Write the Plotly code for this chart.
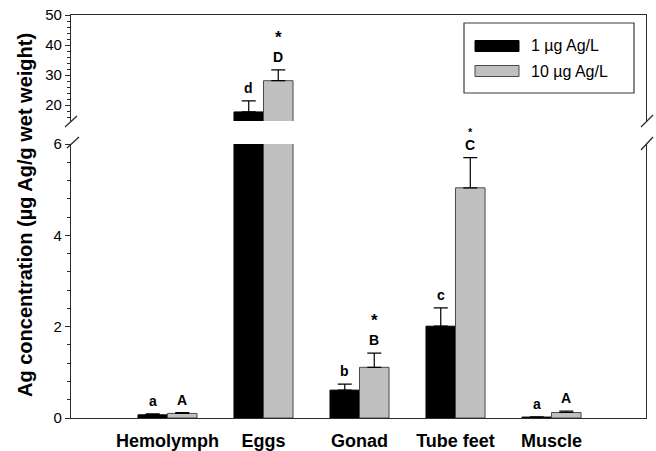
import plotly.graph_objects as go

# ---- data ----
categories = ["Hemolymph", "Eggs", "Gonad", "Tube feet", "Muscle"]
series_names = ["1 µg Ag/L", "10 µg Ag/L"]
low_vals = [0.07, 17.7, 0.61, 2.01, 0.02]
low_errs = [0.02, 3.7, 0.13, 0.40, 0.005]
high_vals = [0.10, 28.1, 1.11, 5.04, 0.12]
high_errs = [0.02, 3.6, 0.31, 0.66, 0.03]
low_letters = ["a", "d", "b", "c", "a"]
high_letters = ["A", "D", "B", "C", "A"]
high_stars = ["", "*", "*", "*", ""]
star_small = [False, False, False, True, False]
lower_ticks = [0, 2, 4, 6]
upper_ticks = [20, 30, 40, 50]
y_title = "Ag concentration (µg Ag/g wet weight)"

# ---- layout geometry ----
W, H = 656, 451
L, R, T, B = 71, 10, 15, 33
PW, PH = W - L - R, H - T - B
LOW_TOP_PX, UP_BOT_PX = 144, 121
LOWER_RANGE = [0, 6]
UPPER_RANGE = [14.67, 50]
FONT = "Arial, Liberation Sans, sans-serif"
AXC = "#2b2b2b"
BLACK = "#000000"
GRAY = "#c0c0c0"
BAR_W = 0.3075


def px(x):
    return (x - L) / PW


def py(y):
    return (H - B - y) / PH


low_dom = [0, py(LOW_TOP_PX)]
up_dom = [py(UP_BOT_PX), 1]

fig = go.Figure()
colors = [BLACK, GRAY]
lines = [BLACK, "#4a4a4a"]
for ya, xa in (("y", "x"), ("y2", "x2")):
    for k, (vals, errs) in enumerate(((low_vals, low_errs), (high_vals, high_errs))):
        fig.add_trace(go.Bar(
            x=categories, y=vals, name=series_names[k], xaxis=xa, yaxis=ya,
            offsetgroup=str(k), showlegend=False,
            marker=dict(color=colors[k], line=dict(color=lines[k], width=1)),
            error_y=dict(type="data", symmetric=False, array=errs,
                         arrayminus=[0] * len(errs), color=BLACK,
                         thickness=1.2, width=7),
            hoverinfo="skip",
        ))

axis_common = dict(showline=True, linecolor=AXC, linewidth=1.3, showgrid=False,
                   zeroline=False, automargin=False)
fig.update_layout(
    template="none",
    width=W, height=H,
    margin=dict(l=L, r=R, t=T, b=B, autoexpand=False),
    paper_bgcolor="white", plot_bgcolor="white",
    showlegend=False,
    barmode="group", bargap=0.385, bargroupgap=0,
    font=dict(family=FONT, color="black"),
    xaxis=dict(domain=[0, 1], anchor="y", range=[-1.005, 4.984],
               ticks="", tickfont=dict(size=18, weight="bold"),
               ticklabelstandoff=6,
               **axis_common),
    xaxis2=dict(domain=[0, 1], anchor="y2", matches="x", side="top",
                showticklabels=False, ticks="", **axis_common),
    yaxis=dict(domain=low_dom, range=LOWER_RANGE, tickvals=lower_ticks,
               anchor="x", ticks="outside", ticklen=5, tickcolor=AXC, mirror=True,
               tickfont=dict(size=15),
               minor=dict(ticks="outside", ticklen=3, dtick=0.4, tick0=0,
                          tickcolor=AXC, showgrid=False),
               **axis_common),
    yaxis2=dict(domain=up_dom, range=UPPER_RANGE, tickvals=upper_ticks,
                anchor="x2", ticks="outside", ticklen=5, tickcolor=AXC, mirror=True,
                tickfont=dict(size=15),
                minor=dict(ticks="outside", ticklen=3, dtick=2, tick0=0,
                           tickcolor=AXC, showgrid=False),
                **axis_common),
)

# ---- break marks ----
shapes = []
for (x0, y0, x1, y1) in [(65, 127, 77, 116), (67, 148, 79, 137),
                         (641, 127, 653, 115), (641, 150, 653, 137)]:
    shapes.append(dict(type="line", xref="paper", yref="paper",
                       x0=px(x0), y0=py(y0), x1=px(x1), y1=py(y1),
                       line=dict(color=AXC, width=1.3)))

# ---- legend (manual) ----
shapes.append(dict(type="rect", xref="paper", yref="paper",
                   x0=px(464), x1=px(634), y0=py(93), y1=py(23),
                   line=dict(color="#3a3a3a", width=1.2), fillcolor="white",
                   layer="above"))
annotations = []
for k, yc in enumerate((46, 71)):
    shapes.append(dict(type="rect", xref="paper", yref="paper",
                       x0=px(475), x1=px(519), y0=py(yc + 5.5), y1=py(yc - 5.5),
                       line=dict(color=lines[k], width=1), fillcolor=colors[k],
                       layer="above"))
    annotations.append(dict(xref="paper", yref="paper", x=px(529), y=py(yc),
                            xanchor="left", yanchor="middle", showarrow=False,
                            text=series_names[k], font=dict(size=16)))

# ---- y title ----
annotations.append(dict(xref="paper", yref="paper", x=px(25), y=py(215),
                        xanchor="center", yanchor="middle", showarrow=False,
                        textangle=-90, text=y_title,
                        font=dict(size=20, weight="bold")))

# ---- significance letters ----
for i in range(len(categories)):
    for k, (vals, errs, lets) in enumerate(((low_vals, low_errs, low_letters),
                                            (high_vals, high_errs, high_letters))):
        top = vals[i] + errs[i]
        yref = "y2" if top > LOWER_RANGE[1] else "y"
        xc = i + (k - 0.5) * BAR_W
        annotations.append(dict(xref="x", yref=yref, x=xc, y=top,
                                xanchor="center", yanchor="bottom", yshift=3,
                                showarrow=False, text=lets[i],
                                font=dict(size=14, weight="bold")))
        if k == 1 and high_stars[i]:
            small = star_small[i]
            annotations.append(dict(xref="x", yref=yref, x=xc, y=top,
                                    xanchor="center", yanchor="bottom",
                                    yshift=18 if small else 21,
                                    showarrow=False, text=high_stars[i],
                                    font=dict(size=11 if small else 17,
                                              weight="bold")))

fig.update_layout(shapes=shapes, annotations=annotations)
fig.write_html("out.html",
               config={"displayModeBar": False},
               post_script="document.body.style.margin='0';"
                           "document.body.style.padding='0';")
